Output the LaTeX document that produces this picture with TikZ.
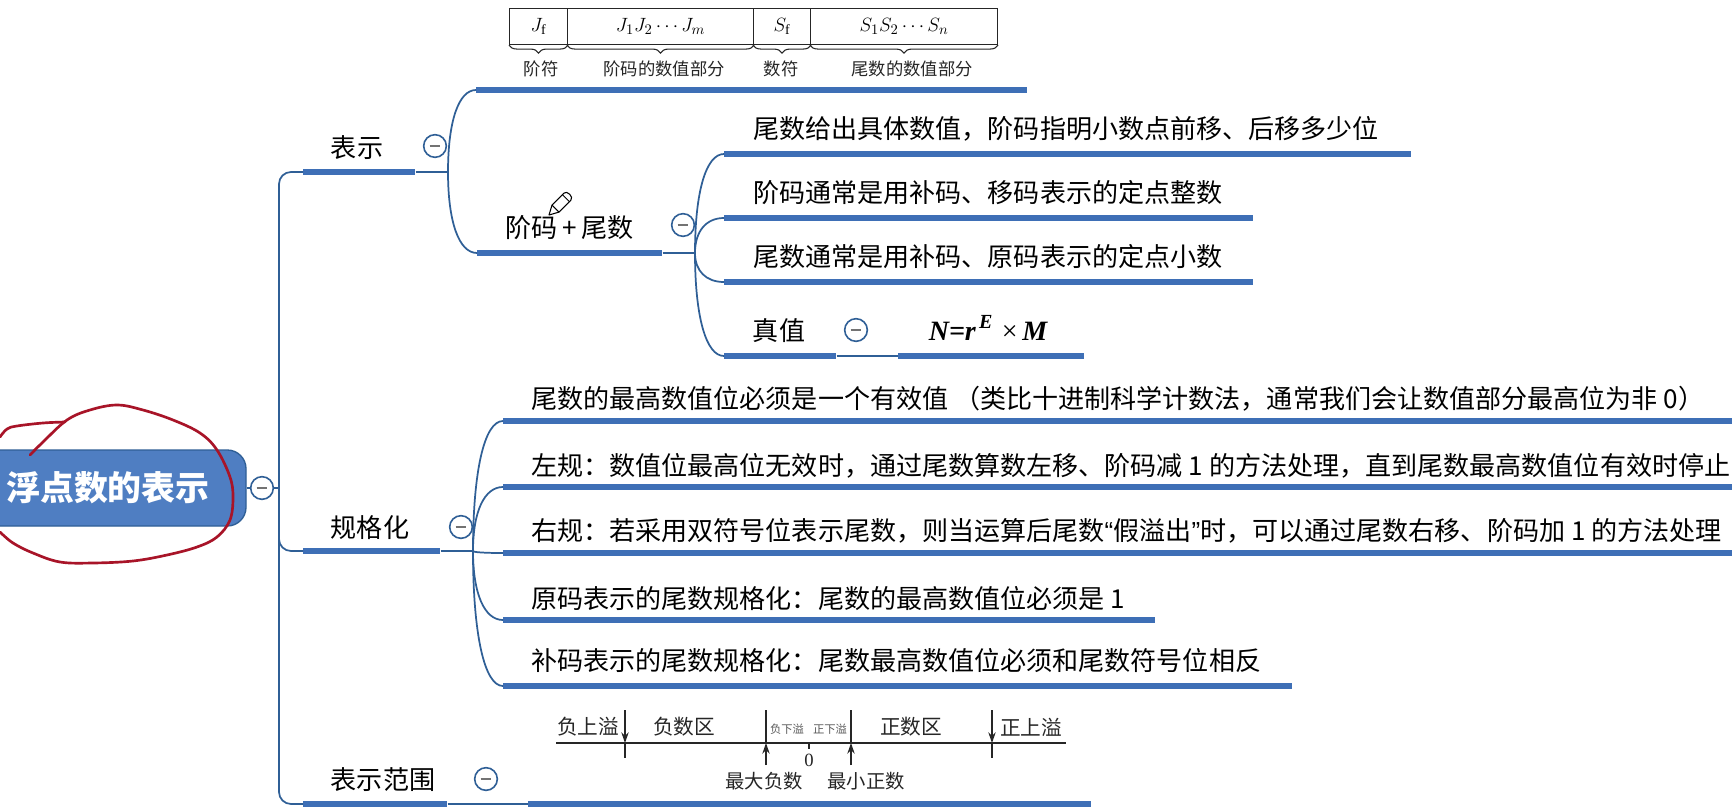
\documentclass[tikz,border=0pt]{standalone}
\usepackage{fontspec}
\setmainfont{Liberation Serif}
\newfontfamily\cjk{Noto Sans CJK SC}
\newfontfamily\latinq{Liberation Sans}
\usetikzlibrary{calc,arrows.meta,decorations.pathreplacing}
\definecolor{barblue}{HTML}{3E6FB6}
\definecolor{linkblue}{HTML}{2F5F96}
\definecolor{rootblue}{HTML}{4F7EC2}
\definecolor{inkred}{HTML}{A81428}
\tikzset{
  barnode/.style={rectangle,fill=barblue,draw=none,inner sep=0pt,minimum height=5.2pt,anchor=west},
  link/.style={draw=linkblue,line width=1.3pt},
  tog/.style={circle,draw=linkblue,fill=white,line width=1.2pt,minimum size=17pt,inner sep=0pt,
    path picture={\draw[gray!90!black,line width=1.1pt] ($(path picture bounding box.center)+(-4pt,0)$) -- ($(path picture bounding box.center)+(4pt,0)$);}},
  big/.style={font=\cjk\fontsize{19.55}{24}\selectfont,text=black,inner sep=0pt,yshift=-0.8pt},
  lft/.style={big,anchor=west},
  cell/.style={rectangle,draw=black!85,line width=.8pt,inner sep=0pt,minimum height=27pt,anchor=north west,font=\fontsize{15}{17}\selectfont},
  capt/.style={font=\cjk\fontsize{13}{15}\selectfont,text=black!85,inner sep=0pt},
  rng/.style={font=\cjk\fontsize{15.5}{18}\selectfont,text=black!85,inner sep=0pt},
  rngb/.style={font=\cjk\fontsize{14.5}{17}\selectfont,text=black!85,inner sep=0pt},
  smalltxt/.style={font=\cjk\fontsize{8.5}{10}\selectfont,text=black!65,inner sep=0pt},
  brc/.style={draw=black!85,line width=.8pt,decorate,decoration={brace,mirror,amplitude=6pt}},
  tickln/.style={draw=black!85,line width=1pt},
  arr/.style={draw=black!85,line width=1pt,-{Stealth[length=8pt,width=5.5pt]}},
  ink/.style={draw=inkred,line width=2pt,line cap=round,line join=round},
}
\newcommand{\mbar}[4]{\node[barnode,minimum width={(#3-#2)*0.75pt}] (#1) at (#2,#4) {};}
\newcommand{\conn}[2]{\draw[link] (#1) .. controls ($(#1)!0.62!(#1|-#2.west)$) and ($(#2.west)!0.62!(#1|-#2.west)$) .. (#2.west);}
\newcommand{\corner}[2]{\draw[link,rounded corners=9pt] (#1) |- (#2.west);}
\begin{document}
\begin{tikzpicture}[x=0.75pt,y=-0.75pt]
\clip (0,0) rectangle (1732,810);
\fill[white] (0,0) rectangle (1732,810);

% root
\node[rectangle,rounded corners=14pt,fill=rootblue,draw=linkblue,line width=1pt,minimum width={276*0.75pt},minimum height={76*0.75pt},
      font=\cjk\fontsize{25.4}{28}\bfseries\selectfont,text=white,inner sep=0pt] (root) at (108,488) {浮点数的表示};
\coordinate (jroot) at (279,488);
\draw[link] (root.east) -- (jroot);
\node[tog] (troot) at (262,488) {};

% level 1
\mbar{bshow}{303}{415}{172}
\mbar{bnorm}{303}{440}{551}
\mbar{brange}{303}{447}{804}
\node[big] (lshow) at (357,147) {表示};
\node[big] (lnorm) at (370,527) {规格化};
\node[big] (lrange) at (383,779) {表示范围};
\corner{jroot}{bshow}
\corner{jroot}{bnorm}
\corner{jroot}{brange}

% show
\coordinate (jshow) at (448,172);
\draw[link] (bshow.east) -- (jshow);
\node[tog] (tshow) at (435,146) {};
\mbar{bfmt}{476}{1027}{90}
\mbar{bsum}{477}{662}{253}
\conn{jshow}{bfmt}
\conn{jshow}{bsum}
\node[big] (lsum) at (569.5,227) {阶码\,+\,尾数};
\coordinate (jsum) at (695,253);
\draw[link] (bsum.east) -- (jsum);
\node[tog] (tsum) at (683,225) {};
\mbar{bc1}{724}{1411}{154}
\mbar{bc2}{724}{1253}{218}
\mbar{bc3}{724}{1253}{282}
\mbar{bc4}{724}{836}{356}
\mbar{bc5}{898}{1084}{356}
\conn{jsum}{bc1}\conn{jsum}{bc2}\conn{jsum}{bc3}\conn{jsum}{bc4}
\draw[link] (bc4.east) -- (bc5.west);
\node[tog] (tval) at (856,330) {};
\node[lft] (t1) at (753,128) {尾数给出具体数值，阶码指明小数点前移、后移多少位};
\node[lft] (t2) at (753,191) {阶码通常是用补码、移码表示的定点整数};
\node[lft] (t3) at (753,255) {尾数通常是用补码、原码表示的定点小数};
\node[big] (t4) at (779,329) {真值};
\node[inner sep=0pt,font=\fontsize{21}{24}\selectfont] (fml) at (988,328) {\bfseries\itshape N=r\raisebox{.45em}{\fontsize{15}{16}\selectfont\,E}\,\,\normalfont×\,\bfseries\itshape M};

% pencil
\draw[black,line width=.8pt,fill=white,line join=round] (549,215) -- (552,205.1) -- (563.9,193.1) .. controls (567,190) and (574,197) .. (570.9,200.1) -- (559,212.1) -- cycle;
\draw[black,line width=.7pt] (552,205.1) -- (559,212.1);
\draw[black,line width=.6pt] (562.4,194.6) -- (569.4,201.6);

% format table
\node[cell,minimum width={58*0.75pt}] (c1) at (509,8) {$J_{\mathrm{f}}$};
\node[cell,minimum width={186*0.75pt}] (c2) at (567,8) {$J_1J_2\cdots J_m$};
\node[cell,minimum width={57*0.75pt}] (c3) at (753,8) {$S_{\mathrm{f}}$};
\node[cell,minimum width={187*0.75pt}] (c4) at (810,8) {$S_1S_2\cdots S_n$};
\draw[brc] (c1.south west) -- (c1.south east);
\draw[brc] (c2.south west) -- (c2.south east);
\draw[brc] (c3.south west) -- (c3.south east);
\draw[brc] (c4.south west) -- (c4.south east);
\node[capt] (k1) at (541,69) {阶符};
\node[capt] (k2) at (664,69) {阶码的数值部分};
\node[capt] (k3) at (781,69) {数符};
\node[capt] (k4) at (912,69) {尾数的数值部分};

% normalise
\coordinate (jnorm) at (473,551);
\draw[link] (bnorm.east) -- (jnorm);
\node[tog] (tnorm) at (461,527) {};
\mbar{bn1}{503}{1732}{421}
\mbar{bn2}{503}{1732}{487}
\mbar{bn3}{503}{1732}{553}
\mbar{bn4}{503}{1155}{620}
\mbar{bn5}{503}{1292}{686}
\conn{jnorm}{bn1}\conn{jnorm}{bn2}\conn{jnorm}{bn3}\conn{jnorm}{bn4}\conn{jnorm}{bn5}
\node[lft] (n1) at (531,398) {尾数的最高数值位必须是一个有效值 （类比十进制科学计数法，通常我们会让数值部分最高位为非 0）};
\node[lft] (n2) at (531,465) {左规：数值位最高位无效时，通过尾数算数左移、阶码减 1 的方法处理，直到尾数最高数值位有效时停止};
\node[lft] (n3) at (531,530) {右规：若采用双符号位表示尾数，则当运算后尾数{\latinq “}假溢出{\latinq ”}时，可以通过尾数右移、阶码加 1 的方法处理};
\node[lft] (n4) at (531,597) {原码表示的尾数规格化：尾数的最高数值位必须是 1};
\node[lft] (n5) at (531,659) {补码表示的尾数规格化：尾数最高数值位必须和尾数符号位相反};

% range
\mbar{brng}{528}{1091}{804}
\draw[link] (brange.east) -- (brng.west);
\node[tog] (trange) at (486,779) {};
\coordinate (axl) at (556,743);
\coordinate (axr) at (1066,743);
\draw[tickln] (axl) -- (axr);
\coordinate (p1) at (625,743);
\coordinate (p2) at (766,743);
\coordinate (p3) at (851,743);
\coordinate (p4) at (992,743);
\coordinate (pz) at (809,743);
\coordinate (p1t) at (625,710); \coordinate (p1b) at (625,758);
\coordinate (p2t) at (766,710); \coordinate (p2b) at (766,765);
\coordinate (p3t) at (851,710); \coordinate (p3b) at (851,765);
\coordinate (p4t) at (992,710); \coordinate (p4b) at (992,758);
\coordinate (pzb) at (809,749);
\draw[arr] (p1t) -- (p1); \draw[tickln] (p1) -- (p1b);
\draw[tickln] (p2t) -- (p2); \draw[arr] (p2b) -- (p2);
\draw[tickln] (p3t) -- (p3); \draw[arr] (p3b) -- (p3);
\draw[arr] (p4t) -- (p4); \draw[tickln] (p4) -- (p4b);
\draw[tickln] (pz) -- (pzb);
\node[rng] (r1) at (588,727) {负上溢};
\node[rng] (r2) at (684,727) {负数区};
\node[smalltxt] (r3) at (787,729) {负下溢};
\node[smalltxt] (r4) at (830,729) {正下溢};
\node[rng] (r5) at (911,727) {正数区};
\node[rng] (r6) at (1031,727) {正上溢};
\node[inner sep=0pt,font=\fontsize{14}{16}\selectfont,text=black!85] (r0) at (809,760) {0};
\node[rngb] (r7) at (764,781) {最大负数};
\node[rngb] (r8) at (866,781) {最小正数};

% red circling
\draw[ink] plot[smooth,tension=.6] coordinates {(30,455) (43,442) (67,420) (90,410) (117,405) (143,410) (173,420) (200,433) (217,450) (230,477) (233,497) (230,520) (217,537) (197,547) (167,555) (133,561) (93,563) (60,562) (33,553) (13,543) (0,532)};
\draw[ink] plot[smooth,tension=.6] coordinates {(65,422) (43,423) (17,426) (7,429) (0,437)};
\end{tikzpicture}
\end{document}
